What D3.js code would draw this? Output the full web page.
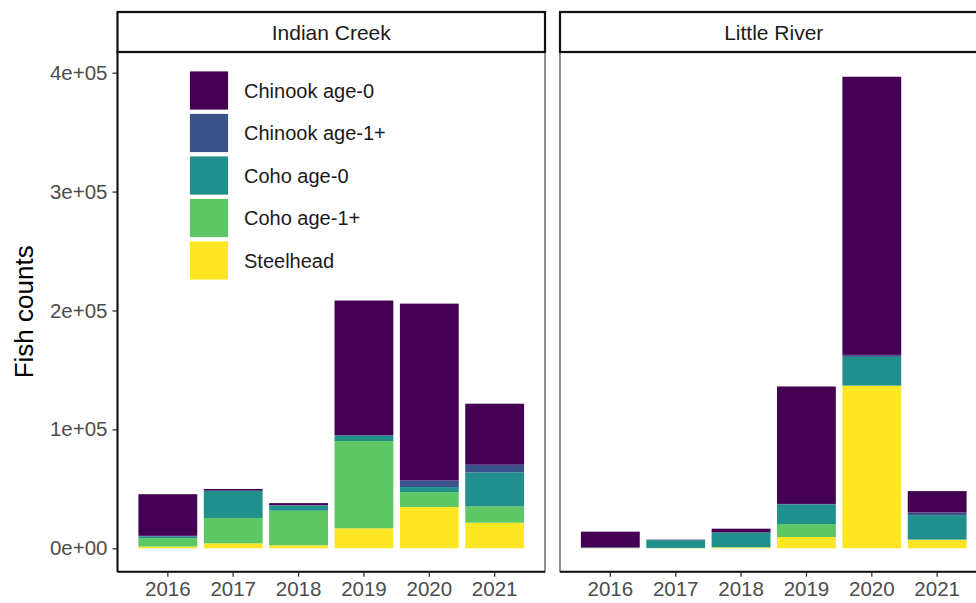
<!DOCTYPE html>
<html>
<head>
<meta charset="utf-8">
<script src="https://cdn.jsdelivr.net/npm/d3@7"></script>
<style>
  html, body { margin: 0; padding: 0; background: #fff; overflow: hidden; }
  svg { display: block; font-family: "Liberation Sans", Arial, sans-serif; }
</style>
</head>
<body>
<svg id="chart" width="976" height="603"></svg>
<script>
// ---- data ----
const years = ["2016", "2017", "2018", "2019", "2020", "2021"];
const species = ["Chinook age-0", "Chinook age-1+", "Coho age-0", "Coho age-1+", "Steelhead"];
const sites = ["Indian Creek", "Little River"];

const icChinook0 = [35000, 1400, 1700, 113200, 148700, 51300];
const icChinook1 = [500, 300, 300, 500, 5600, 6400];
const icCoho0    = [1500, 22700, 4400, 4500, 4200, 28600];
const icCoho1    = [7000, 21300, 29100, 73400, 12600, 13800];
const icSteel    = [1500, 4200, 2500, 16800, 34700, 21500];

const lrChinook0 = [13300, 200, 3100, 98800, 233900, 17900];
const lrChinook1 = [100, 200, 200, 300, 1700, 2300];
const lrCoho0    = [300, 6600, 12300, 16600, 24100, 20400];
const lrCoho1    = [200, 200, 100, 10900, 300, 500];
const lrSteel    = [100, 100, 800, 9500, 136600, 7000];

const yTicks = [0, 100000, 200000, 300000, 400000];
const yTickLabels = ["0e+00", "1e+05", "2e+05", "3e+05", "4e+05"];
const colors = ["#440154", "#3B528B", "#21908C", "#5DC863", "#FDE725"];

// build tables
function table(arrs) {
  return years.map((y, i) => {
    const o = { year: y };
    species.forEach((s, j) => o[s] = arrs[j][i]);
    return o;
  });
}
const siteData = {
  "Indian Creek": table([icChinook0, icChinook1, icCoho0, icCoho1, icSteel]),
  "Little River": table([lrChinook0, lrChinook1, lrCoho0, lrCoho1, lrSteel])
};

// ---- layout ----
const svg = d3.select("#chart");
const panelTop = 52, panelBottom = 571.7, panelW = 427.5;
const panelLefts = [117.5, 560];
const stripTop = 12;

const color = d3.scaleOrdinal().domain(species).range(colors);
const y = d3.scaleLinear().domain([-19680, 417410]).range([panelBottom, panelTop]);
const stackKeys = species.slice().reverse(); // Steelhead at bottom
const stack = d3.stack().keys(stackKeys);

sites.forEach((site, pi) => {
  const x0 = panelLefts[pi];
  const x = d3.scaleBand().domain(years).range([x0, x0 + panelW])
    .paddingInner(0.1).paddingOuter(0.32);
  const g = svg.append("g");

  // bars
  const series = stack(siteData[site]);
  g.selectAll("g.series").data(series).join("g")
    .attr("fill", d => color(d.key))
    .selectAll("rect").data(d => d).join("rect")
    .attr("x", d => x(d.data.year))
    .attr("width", x.bandwidth())
    .attr("y", d => y(d[1]))
    .attr("height", d => Math.max(0, y(d[0]) - y(d[1])));

  // panel border
  g.append("rect").attr("x", x0).attr("y", panelTop)
    .attr("width", panelW).attr("height", panelBottom - panelTop)
    .attr("fill", "none").attr("stroke", "#555").attr("stroke-width", 1.3);

  // bottom axis line
  g.append("line").attr("x1", x0).attr("x2", x0 + panelW)
    .attr("y1", panelBottom).attr("y2", panelBottom)
    .attr("stroke", "#111").attr("stroke-width", 2);

  // x axis
  const xAxis = d3.axisBottom(x).tickSize(5).tickSizeOuter(0).tickPadding(5);
  const ax = g.append("g").attr("transform", `translate(0,${panelBottom})`).call(xAxis);
  ax.select(".domain").remove();
  ax.selectAll(".tick line").attr("stroke", "#333").attr("stroke-width", 1.3);
  ax.selectAll(".tick text").attr("fill", "#4d4d4d").style("font-size", "20.5px")
    .style("font-family", "Liberation Sans, Arial, sans-serif");

  // strip
  g.append("rect").attr("x", x0).attr("y", stripTop)
    .attr("width", panelW).attr("height", panelTop - stripTop)
    .attr("fill", "#fff").attr("stroke", "#111").attr("stroke-width", 2.2);
  g.append("text").attr("x", x0 + panelW / 2).attr("y", (stripTop + panelTop) / 2)
    .attr("dy", "0.36em").attr("text-anchor", "middle")
    .attr("fill", "#1a1a1a").style("font-size", "21px").text(site);
});

// y axis on first panel
const yAxis = d3.axisLeft(y).tickValues(yTicks)
  .tickFormat((d, i) => yTickLabels[i]).tickSize(5).tickSizeOuter(0).tickPadding(5);
const yax = svg.append("g").attr("transform", `translate(${panelLefts[0]},0)`).call(yAxis);
yax.select(".domain").remove();
yax.selectAll(".tick line").attr("stroke", "#333").attr("stroke-width", 1.3);
yax.selectAll(".tick text").attr("fill", "#4d4d4d").style("font-size", "20.5px")
  .style("font-family", "Liberation Sans, Arial, sans-serif");
svg.append("line").attr("x1", panelLefts[0]).attr("x2", panelLefts[0])
  .attr("y1", panelTop).attr("y2", panelBottom)
  .attr("stroke", "#111").attr("stroke-width", 2);

// y title
svg.append("text")
  .attr("transform", `translate(33,${(panelTop + panelBottom) / 2}) rotate(-90)`)
  .attr("text-anchor", "middle").attr("fill", "#000")
  .style("font-size", "26px").text("Fish counts");

// legend
const legend = svg.append("g").attr("transform", "translate(189.5,71)");
const keySize = 39, keyPitch = 42.5;
species.forEach((s, i) => {
  const lg = legend.append("g").attr("transform", `translate(0,${i * keyPitch})`);
  lg.append("rect").attr("width", keySize).attr("height", keySize)
    .attr("fill", color(s)).attr("stroke", "#fff").attr("stroke-width", 0.8);
  lg.append("text").attr("x", 54.5).attr("y", keySize / 2).attr("dy", "0.36em")
    .attr("fill", "#1a1a1a").style("font-size", "20px").text(s);
});
</script>
</body>
</html>
